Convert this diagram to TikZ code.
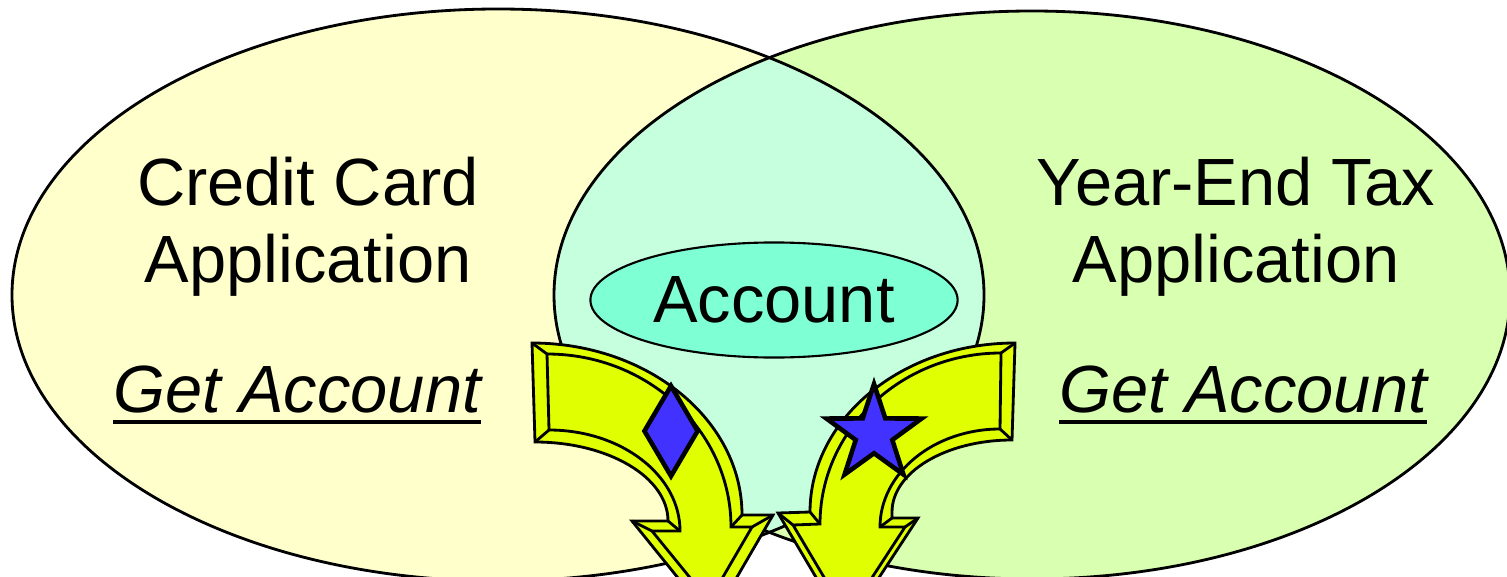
\documentclass[tikz,border=0pt]{standalone}
\usepackage{fontspec}
\setmainfont{Liberation Sans}
\usepackage{xcolor}
\usepackage{tikz}
\usetikzlibrary{shapes.geometric, positioning}
\definecolor{cardYellow}{RGB}{255, 255, 204}
\definecolor{taxGreen}{RGB}{217, 255, 176}
\definecolor{sharedMint}{RGB}{198, 255, 222}
\definecolor{accountAqua}{RGB}{127, 255, 212}
\definecolor{arrowYellow}{RGB}{224, 255, 0}
\definecolor{markBlue}{RGB}{66, 50, 255}
\newcommand{\thickul}[1]{\setbox0=\hbox{#1}\rlap{\rule[-3.5pt]{\wd0}{1.2pt}}\box0}
\tikzset{
  vennline/.style={
    draw=black, line width=0.8pt
  },
  apptitle/.style={
    align=center, inner sep=0pt, anchor=base,
    font=\fontsize{19}{21.8}\selectfont
  },
  getlabel/.style={
    inner sep=0pt, anchor=base,
    font=\fontsize{19}{21.8}\selectfont\itshape
  },
  accountnode/.style={
    ellipse, draw=black, line width=0.6pt, fill=accountAqua,
    minimum width=3.67cm, minimum height=1.15cm, inner sep=0pt,
    font=\fontsize{19}{21.8}\selectfont
  },
  bentarrow/.style={
    draw=black, line width=0.8pt, fill=arrowYellow
  },
  bevelface/.style={
    draw=black, line width=0.8pt
  },
  marker/.style={
    draw=black, line width=1.3pt, fill=markBlue, inner sep=0pt
  }
}

\begin{document}
\begin{tikzpicture}[x=0.01cm, y=-0.01cm]

  \useasboundingbox (0,0) rectangle (1507,576);
  \clip (0,0) rectangle (1507,576);

  % ── Application ellipses ──────────────────────────────────────────────────
  \fill[cardYellow] (498,295) ellipse [x radius=486, y radius=286];
  \fill[taxGreen] (1032,295) ellipse [x radius=478, y radius=284];
  \begin{scope}
    \clip (498,295) ellipse [x radius=486, y radius=286];
    \fill[sharedMint] (1032,295) ellipse [x radius=478, y radius=284];
  \end{scope}
  \draw[vennline] (498,295) ellipse [x radius=486, y radius=286];
  \draw[vennline] (1032,295) ellipse [x radius=478, y radius=284];

  % ── Labels ────────────────────────────────────────────────────────────────
  \node[apptitle] (cardtitle) at (308,282) {Credit Card\\Application};
  \node[getlabel] (cardget) at (297,412) {\thickul{Get Account}};
  \node[apptitle] (taxtitle) at (1236,282) {Year-End Tax\\Application};
  \node[getlabel] (taxget) at (1243,412) {\thickul{Get Account}};

  % ── Shared object ─────────────────────────────────────────────────────────
  \node[accountnode] (account) at (774,300) {Account};

  % ── Left bent arrow ───────────────────────────────────────────────────────
  \path[bentarrow]
    (532,343) .. controls (648,343) and (742,420) .. (742,515)
    -- (773,515) -- (712,620) -- (632,521) -- (668,521)
    .. controls (668,477) and (608,442) .. (535,442) -- cycle;
  \path[bevelface]
    (547,354) .. controls (649,354) and (731,432) .. (731,527)
    -- (752,527) -- (709,601) -- (652,531) -- (680,531)
    .. controls (680,475) and (621,430) .. (549,430) -- cycle;
  \foreach \ox/\oy/\ix/\iy in {532/343/547/354, 535/442/549/430,
      742/515/731/527, 773/515/752/527, 712/620/709/601,
      632/521/652/531, 668/521/680/531}{
    \draw[bevelface] (\ox,\oy) -- (\ix,\iy);
  }

  % ── Right bent arrow ──────────────────────────────────────────────────────
  \path[bentarrow]
    (1015,343) .. controls (902,343) and (810,419) .. (810,512)
    -- (778,513) -- (846,628) -- (918,518) -- (892,518) -- (892,512)
    .. controls (892,472) and (946,440) .. (1012,440) -- cycle;
  \path[bevelface]
    (1001,353) .. controls (901,353) and (820,430) .. (820,524)
    -- (793,525) -- (847,616) -- (905,527) -- (880,527)
    .. controls (880,473) and (934,429) .. (1000,429) -- cycle;
  \foreach \ox/\oy/\ix/\iy in {1015/343/1001/353, 1012/440/1000/429,
      810/512/820/524, 778/513/793/525, 846/628/847/616,
      918/518/905/527, 892/518/880/527}{
    \draw[bevelface] (\ox,\oy) -- (\ix,\iy);
  }

  % ── Markers ───────────────────────────────────────────────────────────────
  \node[marker, diamond, minimum width=0.55cm, minimum height=0.92cm]
    (cardmark) at (671,431) {};
  \node[marker, star, star points=5, star point ratio=2.6, minimum size=1.0cm]
    (taxmark) at (874,434) {};

\end{tikzpicture}
\end{document}
